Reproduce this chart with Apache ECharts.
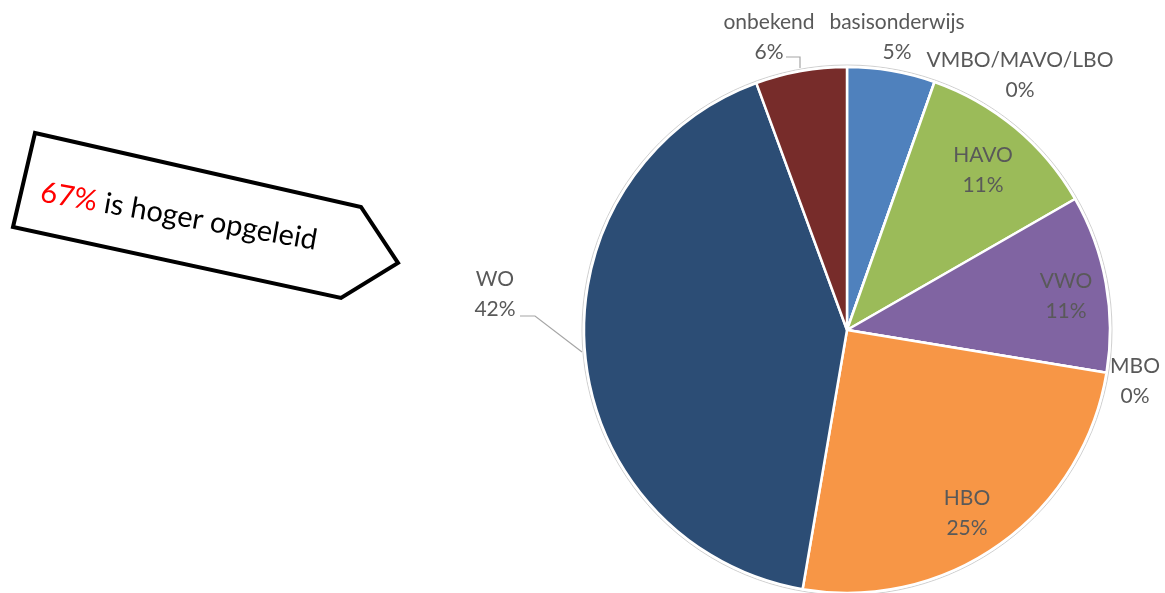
<!DOCTYPE html>
<html>
<head>
<meta charset="utf-8">
<script src="https://cdn.jsdelivr.net/npm/echarts@6/dist/echarts.min.js"></script>
<style>
  html, body { margin: 0; padding: 0; background: #fff; }
  #chart { width: 1165px; height: 593px; }
</style>
</head>
<body>
<div id="chart"></div>
<script>
// Opleidingsniveau (aandeel in %, labels afgerond op hele procenten)
const categories = ['basisonderwijs', 'VMBO/MAVO/LBO', 'HAVO', 'VWO', 'MBO', 'HBO', 'WO', 'onbekend'];
const values = [5.4, 0, 11.3, 10.9, 0, 25.1, 41.7, 5.6];
const sliceColors = ['#4F81BD', '#C0504D', '#9BBB59', '#8064A2', '#4BACC6', '#F79646', '#2C4D75', '#772C2A'];
const calloutHighlight = '67%';
const calloutText = ' is hoger opgeleid';

// label placement (centre of each two-line label block)
const labelSpots = {
  'basisonderwijs': [897, 37],
  'VMBO/MAVO/LBO': [1020, 75],
  'HAVO': [983, 170],
  'VWO': [1066, 296],
  'MBO': [1135, 381],
  'HBO': [967, 513],
  'WO': [495, 294],
  'onbekend': [769, 37]
};
// elbow leader lines: [pie edge point, bend point, end at label]
const leaderLines = {
  'WO': [[582, 352], [535, 316], [520, 316]],
  'onbekend': [[800, 68], [800, 57], [786, 57]]
};

const CX = 847, CY = 330, R = 263;
const FONT = 'Lato, "Open Sans", sans-serif';

const chart = echarts.init(document.getElementById('chart'), null, { renderer: 'canvas' });

const pieData = categories.map((name, i) => ({
  name,
  value: values[i],
  itemStyle: { color: sliceColors[i] },
  labelLine: { show: !!leaderLines[name] }
}));

const deg = Math.PI / 180;

chart.setOption({
  animation: false,
  backgroundColor: '#ffffff',
  graphic: [
    {
      type: 'circle',
      z: 0,
      silent: true,
      shape: { cx: CX, cy: CY, r: R + 2 },
      style: { fill: '#ffffff', stroke: '#d0d0d0', lineWidth: 1 }
    },
    {
      type: 'polygon',
      z: 10,
      silent: true,
      shape: { points: [[35, 133], [361, 207], [398, 263], [341, 298], [13, 227]] },
      style: { fill: '#ffffff', stroke: '#000000', lineWidth: 4, lineJoin: 'miter' }
    },
    {
      type: 'text',
      z: 11,
      silent: true,
      x: 41,
      y: 192,
      rotation: -10 * deg,
      style: {
        text: '{hl|' + calloutHighlight + '}' + calloutText,
        font: '29px ' + FONT,
        fill: '#000000',
        align: 'left',
        verticalAlign: 'middle',
        rich: {
          hl: { fill: '#FF0000', font: '29px ' + FONT }
        }
      }
    }
  ],
  series: [
    {
      type: 'pie',
      center: [CX, CY],
      radius: [0, R],
      startAngle: 90,
      clockwise: true,
      minAngle: 0,
      percentPrecision: 0,
      avoidLabelOverlap: false,
      itemStyle: { borderColor: '#ffffff', borderWidth: 2.5 },
      label: {
        show: true,
        position: 'outside',
        formatter: '{b}\n{d}%',
        color: '#595959',
        fontFamily: FONT,
        fontSize: 21,
        lineHeight: 30,
        align: 'center'
      },
      labelLine: {
        show: false,
        length: 10,
        length2: 10,
        lineStyle: { color: '#A6A6A6', width: 1.2 }
      },
      labelLayout: function (params) {
        const name = categories[params.dataIndex];
        const p = labelSpots[name];
        const out = { x: p[0], y: p[1], align: 'center', verticalAlign: 'middle' };
        if (leaderLines[name]) out.labelLinePoints = leaderLines[name];
        return out;
      },
      emphasis: { disabled: true },
      data: pieData
    }
  ]
});
</script>
</body>
</html>
